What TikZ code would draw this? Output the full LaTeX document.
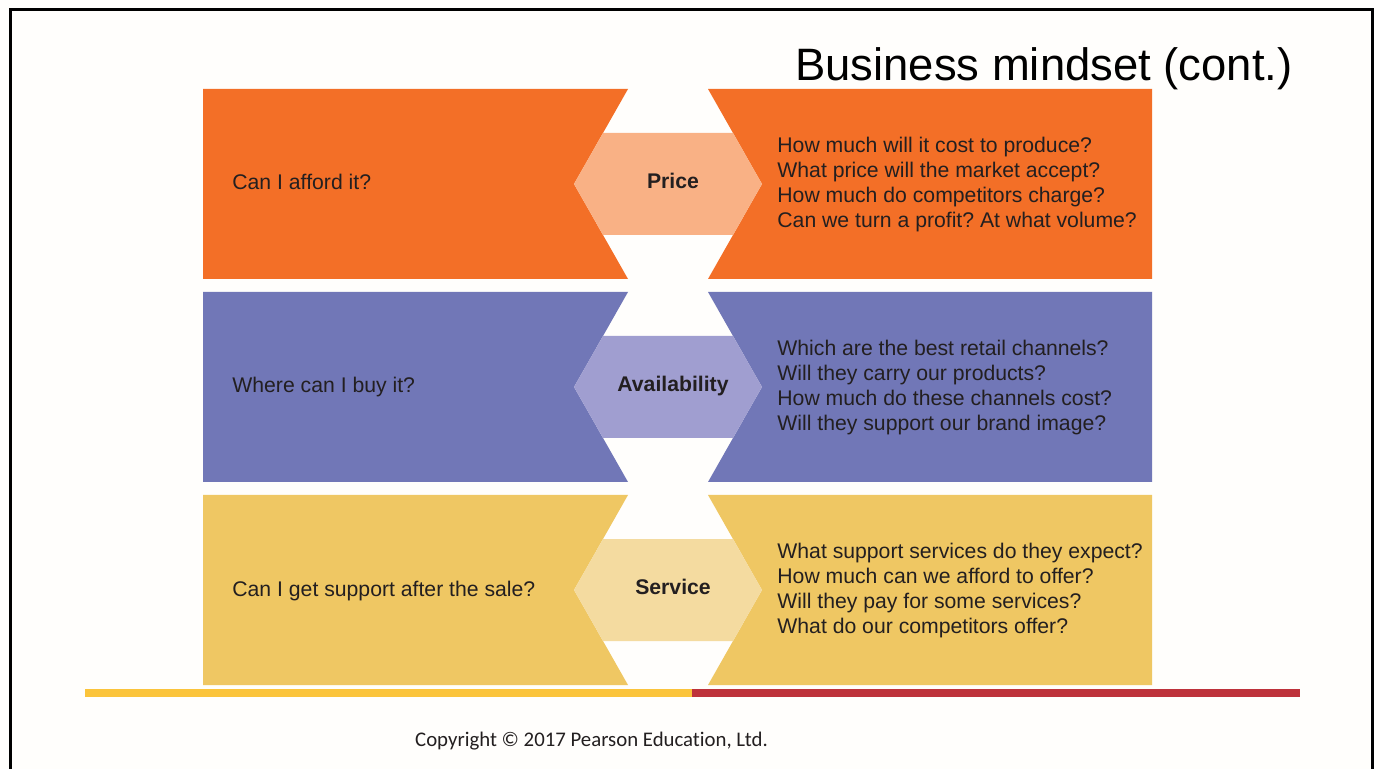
\documentclass[tikz,border=0pt]{standalone}
\usepackage{fontspec}
\setmainfont{Liberation Sans}
\newfontfamily\copyfont[Ligatures=NoCommon]{Carlito}
\usetikzlibrary{positioning}
\frenchspacing

\definecolor{inkdark}{HTML}{231F20}
\definecolor{priceband}{HTML}{F36F27}
\definecolor{pricetag}{HTML}{F9B185}
\definecolor{availband}{HTML}{7177B7}
\definecolor{availtag}{HTML}{A09ED0}
\definecolor{serviceband}{HTML}{EFC763}
\definecolor{servicetag}{HTML}{F4DBA0}
\definecolor{ruleyellow}{HTML}{FBC43B}
\definecolor{rulered}{HTML}{BE323B}

% #1 top edge, #2 band colour, #3 tag colour, #4 node prefix,
% #5 tag, #6 customer question, #7 business questions
\newcommand\mixrow[7]{%
  \fill[#2] (203,#1) -- (628,#1) -- (574,#1+95) -- (628,#1+190) -- (203,#1+190) -- cycle;
  \fill[#2] (708,#1) -- (1152,#1) -- (1152,#1+190) -- (708,#1+190) -- (762,#1+95) -- cycle;
  \fill[#3] (603,#1+44) -- (733,#1+44) -- (762,#1+95) -- (733,#1+146)
    -- (603,#1+146) -- (574,#1+95) -- cycle;
  \node[tag] (#4-tag) at (673,#1+99.5) {#5};
  \node[question] (#4-ask) at (232,#1+101) {#6};
  \node[answers] (#4-list) at (777,#1+96) {#7};
}

\begin{document}
\begin{tikzpicture}[x=0.5pt,y=-0.5pt,
    question/.style={anchor=base west,inner sep=0pt,text=inkdark,
      font=\fontsize{10.6}{12.5}\selectfont},
    answers/.style={anchor=west,inner sep=0pt,align=left,text=inkdark,
      font=\fontsize{10.6}{12.5}\selectfont},
    tag/.style={anchor=base,inner sep=0pt,text=inkdark,
      font=\fontsize{10.6}{12.5}\selectfont\bfseries},
    rule/.style={line width=4pt}]
  \useasboundingbox (0,0) rectangle (1380,769);
  \clip (0,0) rectangle (1380,769);
  \fill[white!99!orange] (0,0) rectangle (1380,769);
  \draw[line width=1.5pt] (10.5,790) -- (10.5,9.5) -- (1372.5,9.5) -- (1372.5,790);

  \node[anchor=base west,inner sep=0pt,font=\fontsize{22.7}{26}\selectfont] (title)
    at (795,81) {Business mindset (cont.)};

  \mixrow{89}{priceband}{pricetag}{price}{Price}{Can I afford it?}
    {How much will it cost to produce?\\What price will the market accept?\\
     How much do competitors charge?\\Can we turn a profit? At what volume?}
  \mixrow{292}{availband}{availtag}{avail}{Availability}{Where can I buy it?}
    {Which are the best retail channels?\\Will they carry our products?\\
     How much do these channels cost?\\Will they support our brand image?}
  \mixrow{495}{serviceband}{servicetag}{service}{Service}{Can I get support after the sale?}
    {What support services do they expect?\\How much can we afford to offer?\\
     Will they pay for some services?\\What do our competitors offer?}

  \coordinate (rule-l) at (85,693);
  \coordinate (rule-m) at (692,693);
  \coordinate (rule-r) at (1300,693);
  \draw[rule,ruleyellow] (rule-l) -- (rule-m);
  \draw[rule,rulered] (rule-m) -- (rule-r);

  \node[inner sep=0pt,text=inkdark,font=\copyfont\fontsize{10.4}{12}\selectfont] (copy)
    at (591.5,741.5) {Copyright © 2017 Pearson Education, Ltd.};
\end{tikzpicture}
\end{document}
